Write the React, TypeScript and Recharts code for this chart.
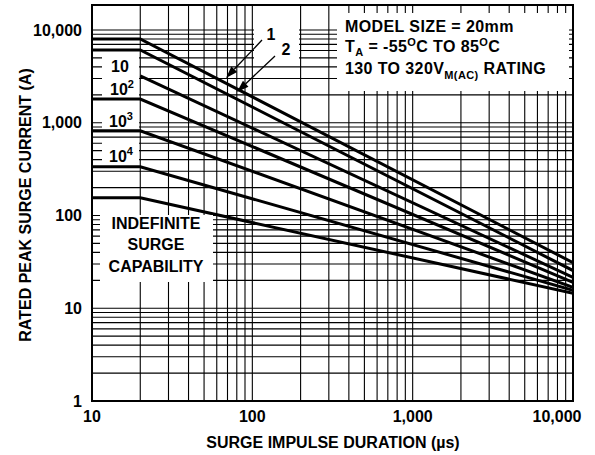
import React from 'react';
import { LineChart, Line, XAxis, YAxis, CartesianGrid } from 'recharts';

// Surge impulse duration (µs) at which each curve is read
const durations = [10, 20, 10000];
// Rated peak surge current (A) per number of pulses
const pulses1 = [8000, 8000, 31];
const pulses2 = [6100, 6100, 25.5];
const pulses10 = [null, 3200, 21.5];
const pulses100 = [1800, 1800, 19];
const pulses1000 = [820, 820, 16.8];
const pulses10000 = [335, 335, 15.6];
const indefinite = [155, 155, 14.5];

const seriesNames = ['1', '2', '10', '10^2', '10^3', '10^4', 'indefinite'];
const seriesValues = [pulses1, pulses2, pulses10, pulses100, pulses1000, pulses10000, indefinite];

const xGridTicks = [
  10, 20, 30, 40, 50, 60, 70, 80, 90,
  100, 200, 300, 400, 500, 600, 700, 800, 900,
  1000, 2000, 3000, 4000, 5000, 6000, 7000, 8000, 9000,
  10000,
];
const yGridTicks = [
  1, 2, 3, 4, 5, 6, 7, 8, 9,
  10, 20, 30, 40, 50, 60, 70, 80, 90,
  100, 200, 300, 400, 500, 600, 700, 800, 900,
  1000, 2000, 3000, 4000, 5000, 6000, 7000, 8000, 9000,
  10000,
];
const xLabelTicks = [10, 100, 1000, 10000];
const yLabelTicks = [1, 10, 100, 1000, 10000];

const xTitle = 'SURGE IMPULSE DURATION (\u00b5s)';
const yTitle = 'RATED PEAK SURGE CURRENT (A)';

const FONT = '"Liberation Sans", Arial, Helvetica, sans-serif';
const textStyle = { fontFamily: FONT, fontWeight: 700, fontSize: 16, fill: '#000' } as const;

const fmt = (v: number) => v.toLocaleString('en-US');

const XTick = (props: any) => {
  const { x, y, payload } = props;
  if (!xLabelTicks.includes(payload.value)) return <g />;
  const shift = payload.value === 10000 ? -16 : 0;
  return (
    <text x={x + shift} y={y} dy="0.71em" textAnchor="middle" style={textStyle}>
      {fmt(payload.value)}
    </text>
  );
};

const YTick = (props: any) => {
  const { x, y, payload } = props;
  if (!yLabelTicks.includes(payload.value)) return <g />;
  return (
    <text x={x} y={y} dy="0.355em" textAnchor="end" style={textStyle}>
      {fmt(payload.value)}
    </text>
  );
};

const Arrow = ({ x1, y1, x2, y2 }: { x1: number; y1: number; x2: number; y2: number }) => {
  const dx = x2 - x1;
  const dy = y2 - y1;
  const len = Math.sqrt(dx * dx + dy * dy);
  const ux = dx / len;
  const uy = dy / len;
  const hl = 12;
  const hw = 4;
  const bx = x2 - ux * hl;
  const by = y2 - uy * hl;
  const pts = `${x2},${y2} ${bx - uy * hw},${by + ux * hw} ${bx + uy * hw},${by - ux * hw}`;
  return (
    <g>
      <line x1={x1} y1={y1} x2={bx} y2={by} stroke="#000" strokeWidth={1.3} />
      <polygon points={pts} fill="#000" />
    </g>
  );
};

export default function App() {
  const series = seriesNames.map((name, i) => ({
    name,
    data: durations.map((d, j) => ({ x: d, y: seriesValues[i][j] })),
  }));

  const boxText = { ...textStyle, letterSpacing: 0.4 } as const;

  return (
    <div style={{ position: 'absolute', left: 0, top: 0, width: 595, height: 455, background: '#fff' }}>
      <LineChart width={595} height={455} margin={{ top: 5, right: 22, bottom: 0, left: 0 }}>
        <CartesianGrid stroke="#000" strokeWidth={1.1} />
        <XAxis
          type="number"
          dataKey="x"
          scale="log"
          domain={[10, 10000]}
          allowDataOverflow
          ticks={xGridTicks}
          interval={0}
          height={54}
          tickLine={false}
          axisLine={false}
          tickSize={6}
          tickMargin={4}
          tick={<XTick />}
        />
        <YAxis
          type="number"
          scale="log"
          domain={[1, 18600]}
          allowDataOverflow
          ticks={yGridTicks}
          interval={0}
          width={92}
          tickLine={false}
          axisLine={false}
          tickSize={6}
          tickMargin={4}
          tick={<YTick />}
        />
        {series.map((s) => (
          <Line
            key={s.name}
            name={s.name}
            data={s.data}
            dataKey="y"
            stroke="#000"
            strokeWidth={3}
            dot={false}
            activeDot={false}
            isAnimationActive={false}
            connectNulls={false}
          />
        ))}
      </LineChart>
      <svg
        width={595}
        height={455}
        style={{ position: 'absolute', left: 0, top: 0, pointerEvents: 'none' }}
      >
        {/* white annotation boxes */}
        <rect x={337} y={13} width={232} height={78} fill="#fff" />
        <rect x={254} y={6} width={45} height={56} fill="#fff" />
        <rect x={102} y={57} width={37} height={17} fill="#fff" />
        <rect x={102} y={78} width={37} height={19} fill="#fff" />
        <rect x={102} y={106} width={37} height={22} fill="#fff" />
        <rect x={102} y={142} width={37} height={22} fill="#fff" />
        <rect x={100} y={215} width={113} height={67} fill="#fff" />

        {/* model box text */}
        <text x={345} y={32} style={boxText}>MODEL SIZE = 20mm</text>
        <text x={345} y={52} style={boxText}>
          T<tspan fontSize={11} dy={4}>A</tspan>
          <tspan dy={-4}> = -55</tspan>
          <tspan fontSize={11} dy={-6}>O</tspan>
          <tspan dy={6}>C TO 85</tspan>
          <tspan fontSize={11} dy={-6}>O</tspan>
          <tspan dy={6}>C</tspan>
        </text>
        <text x={345} y={74} style={boxText}>
          130 TO 320V<tspan fontSize={11} dy={5}>M(AC)</tspan>
          <tspan dy={-5}> RATING</tspan>
        </text>

        {/* curve labels */}
        <text x={111} y={72} style={textStyle}>10</text>
        <text x={110} y={95} style={textStyle}>
          10<tspan fontSize={11} dy={-7}>2</tspan>
        </text>
        <text x={109} y={127} style={textStyle}>
          10<tspan fontSize={11} dy={-7}>3</tspan>
        </text>
        <text x={109} y={162} style={textStyle}>
          10<tspan fontSize={11} dy={-7}>4</tspan>
        </text>

        <text x={156} y={229} textAnchor="middle" style={textStyle}>INDEFINITE</text>
        <text x={156} y={250} textAnchor="middle" style={textStyle}>SURGE</text>
        <text x={156} y={272} textAnchor="middle" style={textStyle}>CAPABILITY</text>

        {/* pulse-count arrows */}
        <text x={271} y={40} textAnchor="middle" style={textStyle}>1</text>
        <text x={286} y={55} textAnchor="middle" style={textStyle}>2</text>
        <Arrow x1={262} y1={40} x2={226} y2={78} />
        <Arrow x1={275} y1={56} x2={237} y2={92} />

        {/* axis titles */}
        <text x={333} y={448} textAnchor="middle" style={textStyle}>{xTitle}</text>
        <text x={31} y={205} textAnchor="middle" transform="rotate(-90 31 205)" style={textStyle}>
          {yTitle}
        </text>

        {/* plot frame */}
        <rect x={92} y={5} width={481} height={396} fill="none" stroke="#000" strokeWidth={2} />
      </svg>
    </div>
  );
}
